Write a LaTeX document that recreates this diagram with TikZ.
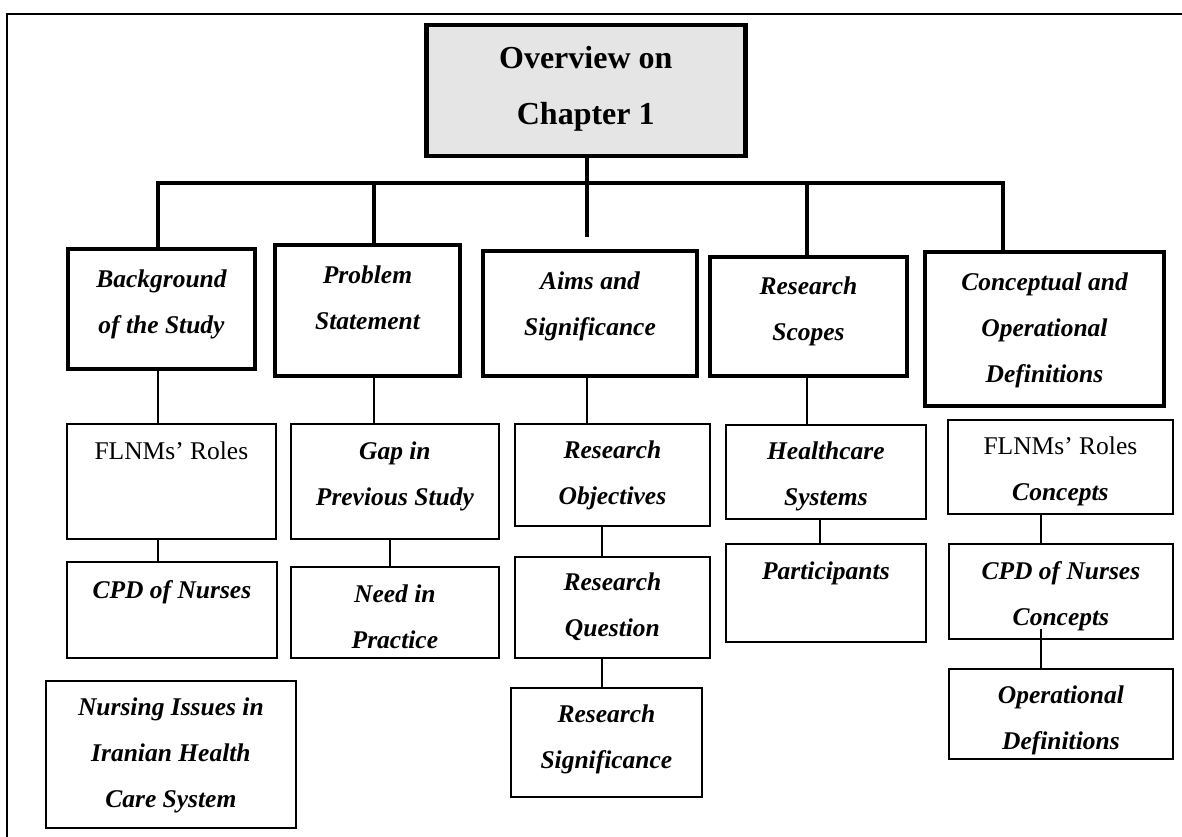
\documentclass[tikz,border=0pt]{standalone}
\usepackage{fontspec}
\setmainfont{Liberation Serif}
\newcommand{\bt}[5]{\begin{minipage}[c][#2pt][t]{#1pt}\centering#4\rule{0pt}{#3pt}#5\end{minipage}}
\newcommand{\bi}{\fontsize{25.5}{46}\selectfont\bfseries\itshape}
\newcommand{\hd}{\fontsize{32}{56}\selectfont\bfseries}
\newcommand{\rg}{\mdseries\upshape}
\begin{document}
\begin{tikzpicture}[x=1pt,y=-1pt,
  frame/.style={line width=2.2pt},
  mainbox/.style={draw, line width=4.5pt, fill=black!10, inner sep=0pt, anchor=north west},
  topicbox/.style={draw, line width=4pt, fill=white, inner sep=0pt, anchor=north west},
  subbox/.style={draw, line width=1.8pt, fill=white, inner sep=0pt, anchor=north west},
  bar/.style={line width=4pt},
  link/.style={line width=1.8pt}]

\useasboundingbox (0,0) rectangle (1182,837);
\fill[white] (0,0) rectangle (1182,837);
\draw[frame] (7,837) -- (7,14) -- (1182,14);

% top box
\node[mainbox] (top) at (424,23) {\bt{319}{131}{43}{\hd}{Overview on\\Chapter 1}};

% level 1
\node[topicbox] (bg)   at (66,247)  {\bt{187}{120}{38}{\bi}{Background\\of the Study}};
\node[topicbox] (ps)   at (273,243) {\bt{185}{131}{38}{\bi}{Problem\\Statement}};
\node[topicbox] (aims) at (481,249) {\bt{214}{125}{38}{\bi}{Aims and\\Significance}};
\node[topicbox] (rs)   at (708,255) {\bt{197}{119}{37}{\bi}{Research\\Scopes}};
\node[topicbox] (cod)  at (923,250) {\bt{239}{154}{38}{\bi}{Conceptual and\\Operational\\Definitions}};

% level 2
\node[subbox] (fl1)  at (66,423)  {\bt{209}{115}{36}{\bi}{{\rg FLNMs’ Roles}}};
\node[subbox] (cpd1) at (66,561)  {\bt{210}{96}{37}{\bi}{CPD of Nurses}};
\node[subbox] (nis)  at (45,680)  {\bt{250}{147}{35}{\bi}{Nursing Issues in\\Iranian Health\\Care System}};
\node[subbox] (gap)  at (290,423) {\bt{208}{115}{36}{\bi}{Gap in\\Previous Study}};
\node[subbox] (need) at (290,566) {\bt{208}{91}{36}{\bi}{Need in\\Practice}};
\node[subbox] (obj)  at (514,423) {\bt{195}{102}{35}{\bi}{Research\\Objectives}};
\node[subbox] (que)  at (514,556) {\bt{195}{101}{34}{\bi}{Research\\Question}};
\node[subbox] (sig)  at (510,687) {\bt{191}{109}{35}{\bi}{Research\\Significance}};
\node[subbox] (hc)   at (725,424) {\bt{200}{94}{35}{\bi}{Healthcare\\Systems}};
\node[subbox] (part) at (725,543) {\bt{200}{98}{36}{\bi}{Participants}};
\node[subbox] (flc)  at (947,419) {\bt{225}{94}{35}{\bi}{{\rg FLNMs’ Roles}\\Concepts}};
\node[subbox] (cpdc) at (948,543) {\bt{224}{95}{36}{\bi}{CPD of Nurses\\Concepts}};
\node[subbox] (opd)  at (948,668) {\bt{224}{90}{35}{\bi}{Operational\\Definitions}};

% connector coordinates
\coordinate (bar1) at (158,183);
\coordinate (bar2) at (374,183);
\coordinate (bar4) at (807,183);
\coordinate (bar5) at (1003,183);
\coordinate (stub) at (587,237);
\coordinate (c2) at (390,0);
\coordinate (c3) at (602,0);
\coordinate (c4) at (820,0);
\coordinate (c5) at (1041,0);
\coordinate (c5b) at (1041,629);

% tree bar
\draw[bar] (bar1 |- bg.north) -- (bar1) -- (bar5) -- (bar5 |- cod.north);
\draw[bar] (bar2) -- (bar2 |- ps.north);
\draw[bar] (bar4) -- (bar4 |- rs.north);
\draw[bar] (top.south -| stub) -- (stub);

% level 2 links
\draw[link] (bg.south -| bar1) -- (fl1.north -| bar1);
\draw[link] (fl1.south -| bar1) -- (cpd1.north -| bar1);
\draw[link] (ps.south -| bar2) -- (gap.north -| bar2);
\draw[link] (gap.south -| c2) -- (need.north -| c2);
\draw[link] (aims.south -| stub) -- (obj.north -| stub);
\draw[link] (obj.south -| c3) -- (que.north -| c3);
\draw[link] (que.south -| c3) -- (sig.north -| c3);
\draw[link] (rs.south -| bar4) -- (hc.north -| bar4);
\draw[link] (hc.south -| c4) -- (part.north -| c4);
\draw[link] (flc.south -| c5) -- (cpdc.north -| c5);
\draw[link] (c5b) -- (opd.north -| c5);
\end{tikzpicture}
\end{document}
